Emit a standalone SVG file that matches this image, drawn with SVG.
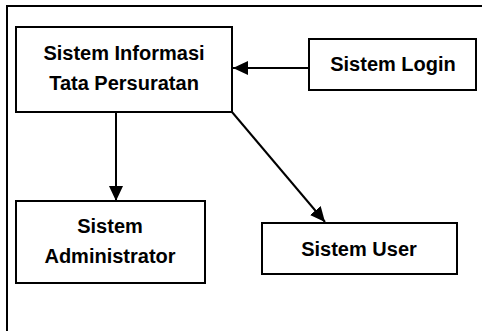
<svg xmlns="http://www.w3.org/2000/svg" width="482" height="331" viewBox="0 0 482 331">
<style>
.box{fill:#fff;stroke:#000;stroke-width:2}
.t{font-family:"Liberation Sans",Arial,sans-serif;font-weight:bold;font-size:20px;text-anchor:middle;fill:#000}
.c{stroke:#000;stroke-width:2;fill:none}
</style>
<defs>
<marker id="ah" markerUnits="userSpaceOnUse" markerWidth="16" markerHeight="14" refX="15" refY="7" orient="auto">
<path d="M0,0 L15,7 L0,14 Z" fill="#000"/>
</marker>
</defs>
<rect width="482" height="331" fill="#fff"/>
<rect x="7" y="6" width="520" height="400" fill="none" stroke="#000" stroke-width="2"/>
<g id="connectors">
<line class="c" x1="309" y1="68" x2="233" y2="68" marker-end="url(#ah)"/>
<line class="c" x1="116" y1="112" x2="116" y2="201" marker-end="url(#ah)"/>
<line class="c" x1="232" y1="112" x2="325" y2="222" marker-end="url(#ah)"/>
</g>
<g id="main">
<rect class="box" x="16" y="27" width="216" height="85"/>
<text class="t" x="124" y="60">Sistem Informasi</text>
<text class="t" x="124" y="90">Tata Persuratan</text>
</g>
<g id="login">
<rect class="box" x="309" y="39" width="167" height="51"/>
<text class="t" x="393" y="71">Sistem Login</text>
</g>
<g id="admin">
<rect class="box" x="16" y="201" width="189" height="82"/>
<text class="t" x="110" y="233">Sistem</text>
<text class="t" x="110" y="263">Administrator</text>
</g>
<g id="user">
<rect class="box" x="262" y="223" width="195" height="51"/>
<text class="t" x="359" y="256">Sistem User</text>
</g>
</svg>
